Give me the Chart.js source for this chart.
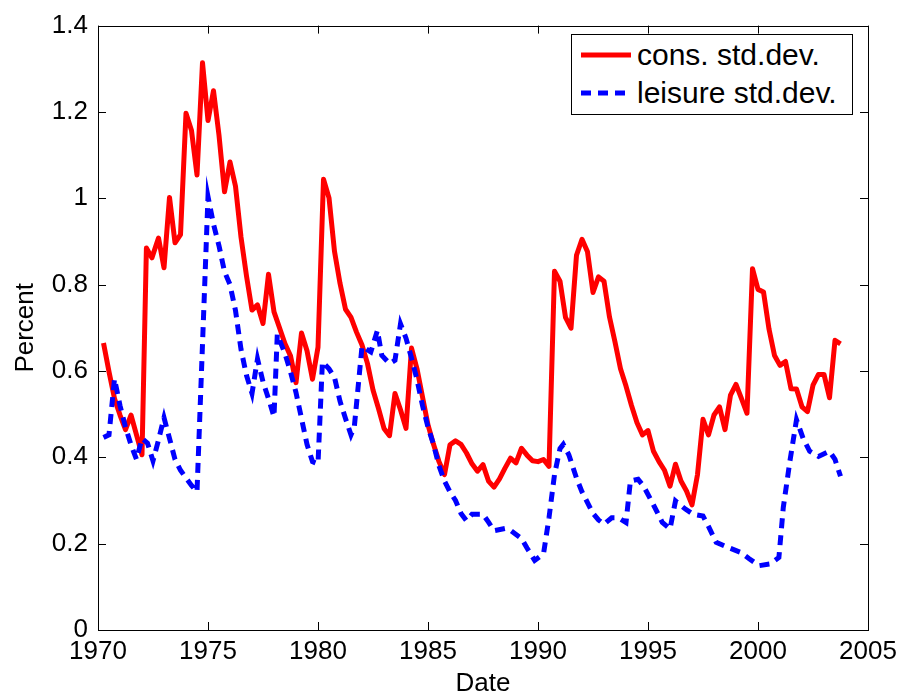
<!DOCTYPE html>
<html>
<head>
<meta charset="utf-8">
<script src="https://cdn.jsdelivr.net/npm/chart.js@4/dist/chart.umd.min.js"></script>
<style>
  html, body { margin: 0; padding: 0; background: #fff; }
  #wrap { position: relative; width: 907px; height: 699px; }
  #legend { position: absolute; left: 571px; top: 34px; width: 280px; height: 79px;
    border: 1px solid #000; background: #fff; font-family: "Liberation Sans", Arial, sans-serif;
    font-size: 30px; color: #000; }
  #legend .row { position: absolute; left: 0; height: 34px; }
  #legend svg { position: absolute; left: 9px; top: 2px; }
  #legend span { position: absolute; left: 65px; top: 0; line-height: 34px; white-space: nowrap; }
</style>
</head>
<body>
<div id="wrap">
  <canvas id="chart" width="907" height="699"></canvas>
  <div id="legend">
    <div class="row" style="top:3px"><svg width="52" height="30"><line x1="0" y1="15" x2="50" y2="15" stroke="#ff0000" stroke-width="5"/></svg><span>cons. std.dev.</span></div>
    <div class="row" style="top:41px"><svg width="52" height="30"><line x1="0" y1="15" x2="50" y2="15" stroke="#0000ff" stroke-width="5" stroke-dasharray="10 7"/></svg><span>leisure std.dev.</span></div>
  </div>
</div>
<script>
// consumption std. dev. (quarterly)
const consYears = [1970.25,1970.5,1970.75,1971,1971.25,1971.5,1971.75,1972,1972.2,1972.45,1972.75,1973,1973.25,1973.5,1973.75,1974,1974.25,1974.5,1974.75,1975,
  1975.25,1975.5,1975.75,1976,1976.25,1976.5,1976.75,1977,1977.25,1977.5,1977.75,1978,1978.25,1978.5,1978.75,1979,1979.25,1979.5,1979.75,1980,
  1980.25,1980.5,1980.75,1981,1981.25,1981.5,1981.75,1982,1982.25,1982.5,1982.75,1983,1983.25,1983.5,1983.75,1984,1984.25,1984.5,1984.75,1985,
  1985.25,1985.5,1985.75,1986,1986.25,1986.5,1986.75,1987,1987.25,1987.5,1987.75,1988,1988.25,1988.5,1988.75,1989,1989.25,1989.5,1989.75,1990,
  1990.25,1990.5,1990.75,1991,1991.25,1991.5,1991.75,1992,1992.25,1992.5,1992.75,1993,1993.25,1993.5,1993.75,1994,1994.25,1994.5,1994.75,1995,
  1995.25,1995.5,1995.75,1996,1996.25,1996.5,1996.75,1997,1997.25,1997.5,1997.75,1998,1998.25,1998.5,1998.75,1999,1999.25,1999.5,1999.75,2000,
  2000.25,2000.5,2000.75,2001,2001.25,2001.5,2001.75,2002,2002.25,2002.5,2002.75,2003,2003.25,2003.5,2003.75];
const consVals = [0.665,0.598,0.536,0.498,0.464,0.498,0.452,0.406,0.885,0.862,0.908,0.839,1.002,0.897,0.916,1.197,1.157,1.054,1.314,1.180,
  1.249,1.146,1.015,1.084,1.028,0.91,0.82,0.741,0.753,0.71,0.824,0.737,0.70,0.663,0.635,0.573,0.688,0.647,0.581,0.655,
  1.044,1.001,0.877,0.803,0.743,0.724,0.69,0.66,0.617,0.556,0.513,0.467,0.45,0.548,0.51,0.467,0.653,0.605,0.54,0.475,
  0.43,0.39,0.36,0.429,0.438,0.43,0.41,0.385,0.368,0.383,0.345,0.331,0.35,0.375,0.398,0.387,0.421,0.405,0.392,0.39,
  0.395,0.379,0.831,0.808,0.724,0.699,0.868,0.905,0.876,0.782,0.818,0.808,0.725,0.667,0.605,0.565,0.52,0.48,0.452,0.462,
  0.414,0.39,0.37,0.333,0.384,0.345,0.322,0.29,0.36,0.488,0.452,0.498,0.517,0.464,0.544,0.569,0.536,0.502,0.837,0.789,
  0.783,0.697,0.636,0.613,0.622,0.559,0.558,0.517,0.506,0.567,0.592,0.592,0.538,0.671,0.663];

// leisure std. dev. (turning points)
const leisYears = [1970.25,1970.5,1970.75,1971,1971.25,1971.5,1971.75,1972,1972.25,1972.5,1972.75,1973,1973.25,1973.5,1973.75,1974,1974.25,1974.5,1975,
  1975.25,1975.5,1975.75,1976,1976.25,1976.5,1976.75,1977,1977.25,1977.5,1977.75,1978,1978.15,1978.5,1978.75,1979,1979.25,1979.5,1979.75,1980,
  1980.2,1980.5,1980.75,1981,1981.25,1981.5,1981.65,1982,1982.4,1982.7,1982.9,1983.25,1983.5,1983.75,1984,1984.25,1984.5,1984.75,1985,
  1985.25,1985.5,1985.75,1986,1986.25,1986.5,1986.75,1987,1987.25,1987.5,1987.75,1988,1988.5,1988.75,1989.25,1989.5,1989.85,1990.25,1990.5,1990.75,1991,
  1991.15,1991.4,1991.75,1992,1992.25,1992.5,1992.75,1993,1993.35,1993.65,1994,1994.2,1994.55,1994.8,1995.2,1995.65,1996,1996.25,1996.7,1997.05,
  1997.5,1997.75,1998.1,1998.6,1999.2,1999.6,2000.05,2000.55,2000.95,2001.15,2001.45,2001.75,2002.05,2002.35,2002.75,2003.25,2003.5,2003.75];
const leisVals = [0.446,0.452,0.582,0.52,0.47,0.429,0.395,0.444,0.433,0.392,0.44,0.492,0.444,0.395,0.37,0.352,0.335,0.32,1.004,
  0.94,0.89,0.83,0.80,0.74,0.65,0.59,0.548,0.628,0.575,0.536,0.494,0.685,0.64,0.598,0.55,0.49,0.43,0.39,0.385,
  0.621,0.605,0.585,0.53,0.49,0.452,0.47,0.657,0.644,0.694,0.636,0.617,0.625,0.709,0.676,0.63,0.58,0.52,0.47,
  0.43,0.38,0.345,0.32,0.30,0.27,0.253,0.268,0.268,0.268,0.25,0.23,0.235,0.231,0.212,0.19,0.161,0.176,0.26,0.36,0.42,
  0.43,0.406,0.352,0.32,0.295,0.27,0.255,0.245,0.26,0.26,0.249,0.345,0.349,0.333,0.295,0.249,0.234,0.299,0.28,0.268,
  0.264,0.24,0.203,0.192,0.18,0.165,0.149,0.153,0.168,0.284,0.391,0.487,0.444,0.414,0.402,0.414,0.395,0.356];

const xTicks = [1970,1975,1980,1985,1990,1995,2000,2005];
const yTicks = [0,0.2,0.4,0.6,0.8,1,1.2,1.4];

const FONT = '"Liberation Sans", Arial, sans-serif';

// MATLAB-like box with ticks pointing inward
const boxTicks = {
  id: 'boxTicks',
  afterDraw(chart) {
    const {ctx, chartArea: a, scales: {x, y}} = chart;
    ctx.save();
    ctx.strokeStyle = '#000';
    ctx.lineWidth = 1;
    ctx.beginPath();
    xTicks.forEach(v => {
      const px = Math.round(x.getPixelForValue(v)) + 0.5;
      ctx.moveTo(px, a.bottom); ctx.lineTo(px, a.bottom - 8);
      ctx.moveTo(px, a.top); ctx.lineTo(px, a.top + 8);
    });
    yTicks.forEach(v => {
      const py = Math.round(y.getPixelForValue(v)) + 0.5;
      ctx.moveTo(a.left, py); ctx.lineTo(a.left + 8, py);
      ctx.moveTo(a.right, py); ctx.lineTo(a.right - 8, py);
    });
    ctx.stroke();
    ctx.strokeRect(Math.round(a.left) + 0.5, Math.round(a.top) + 0.5, Math.round(a.right - a.left), Math.round(a.bottom - a.top));
    ctx.restore();
  }
};

new Chart(document.getElementById('chart'), {
  type: 'line',
  data: {
    datasets: [
      { label: 'cons. std.dev.', data: consYears.map((t, i) => ({x: t, y: consVals[i]})),
        borderColor: '#ff0000', borderWidth: 5, pointRadius: 0, tension: 0, order: 2, borderJoinStyle: 'round' },
      { label: 'leisure std.dev.', data: leisYears.map((t, i) => ({x: t, y: leisVals[i]})),
        borderColor: '#0000ff', borderWidth: 5, borderDash: [10, 7], pointRadius: 0, tension: 0, order: 1 }
    ]
  },
  options: {
    responsive: false,
    animation: false,
    layout: { padding: { top: 21, right: 39, left: 0, bottom: 0 } },
    plugins: { legend: { display: false }, tooltip: { enabled: false } },
    scales: {
      x: {
        type: 'linear', min: 1970, max: 2005,
        afterBuildTicks: s => { s.ticks = xTicks.map(v => ({value: v})); },
        afterFit: s => { s.height = 69; },
        grid: { display: false, drawTicks: false }, border: { display: false },
        ticks: { color: '#000', font: { family: FONT, size: 26 }, padding: 6, maxRotation: 0, autoSkip: false,
          callback: v => String(v) },
        title: { display: true, text: 'Date', color: '#000', font: { family: FONT, size: 26 }, padding: { top: 0, bottom: 0 } }
      },
      y: {
        min: 0, max: 1.4,
        afterBuildTicks: s => { s.ticks = yTicks.map(v => ({value: v})); },
        afterFit: s => { s.width = 98; },
        grid: { display: false, drawTicks: false }, border: { display: false },
        ticks: { color: '#000', font: { family: FONT, size: 26 }, padding: 10, autoSkip: false,
          callback: v => String(+v.toFixed(1)) },
        title: { display: true, text: 'Percent', color: '#000', font: { family: FONT, size: 26 }, padding: { top: 10, bottom: 0 } }
      }
    }
  },
  plugins: [boxTicks]
});
</script>
</body>
</html>
